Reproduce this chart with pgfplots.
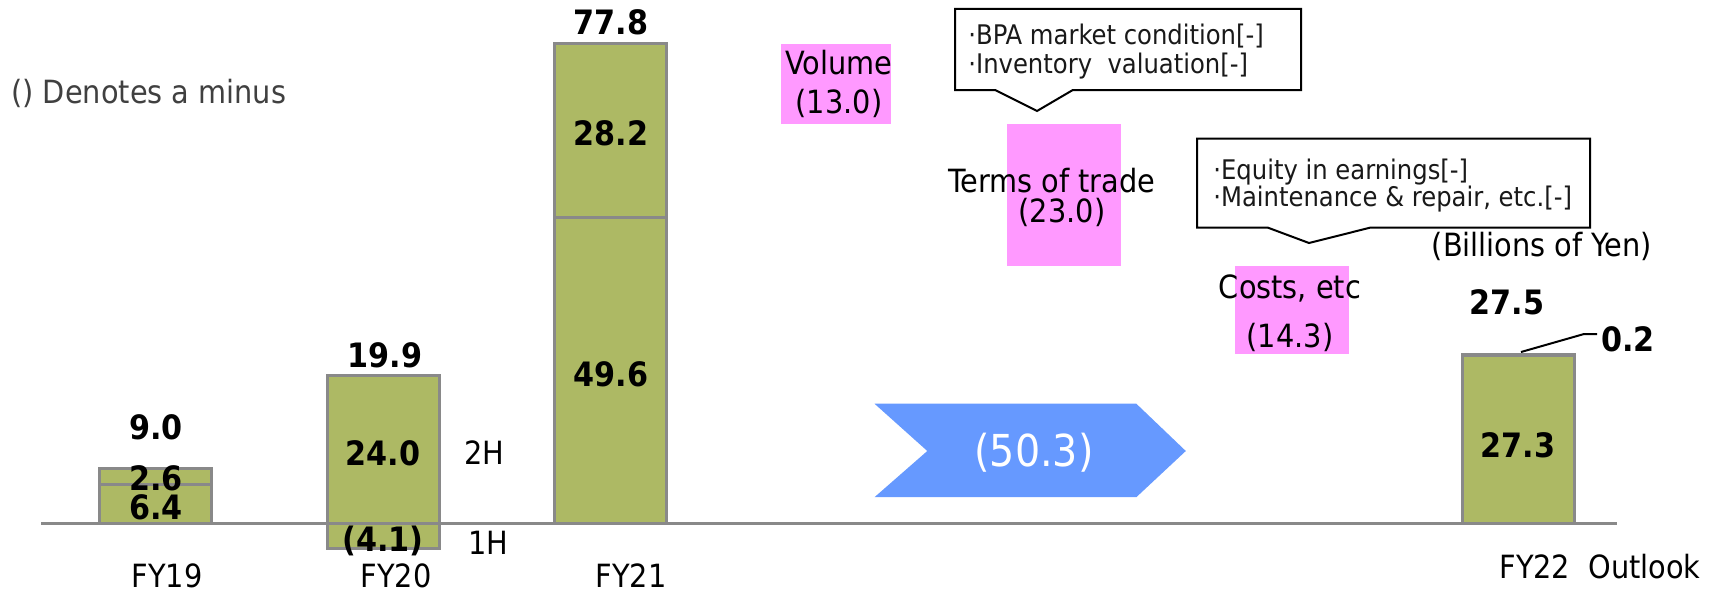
\documentclass[border=0pt]{standalone}
\usepackage{pgfplots}
\pgfplotsset{compat=1.18}
\usepackage{fontspec}
\setmainfont{DejaVu Sans Condensed}
\definecolor{barg}{RGB}{173,185,100}
\definecolor{barline}{RGB}{137,137,137}
\definecolor{pinkc}{RGB}{255,153,255}
\definecolor{bluec}{RGB}{102,153,255}
\definecolor{txtgray}{RGB}{64,64,64}
\begin{document}
\begin{tikzpicture}[
  lab/.style={font=\fontsize{16.8}{19}\selectfont\bfseries, inner sep=0pt},
  txt/.style={font=\fontsize{16}{18}\selectfont, inner sep=0pt},
  small/.style={font=\fontsize{13.5}{16}\selectfont, inner sep=0pt, anchor=west, text=black!90}]
\begin{axis}[name=ax, width=862.5pt, height=298pt, scale only axis, hide axis, clip=false,
  xmin=-0.6872, xmax=6.9119, ymin=-11.744, ymax=84.93]
% waterfall (pink floating boxes)
\addplot[fill=pinkc, draw=none] coordinates {(2.753,77.8) (3.238,77.8) (3.238,64.8) (2.753,64.8)} -- cycle;
\addplot[fill=pinkc, draw=none] coordinates {(3.747,64.8) (4.251,64.8) (4.251,41.8) (3.747,41.8)} -- cycle;
\addplot[fill=pinkc, draw=none] coordinates {(4.754,41.8) (5.255,41.8) (5.255,27.5) (4.754,27.5)} -- cycle;
% bars: totals / 2H, then lower segments / 1H
\addplot[ybar, bar width=56pt, bar shift=0pt, fill=barg, draw=barline, line width=1.5pt]
  coordinates {(0,9.0) (1,24.0) (2,77.8) (6,27.5)};
\addplot[ybar, bar width=56pt, bar shift=0pt, fill=barg, draw=barline, line width=1.5pt]
  coordinates {(0,6.4) (1,-4.1) (2,49.6) (6,27.3)};
% baseline
\addplot[barline, line width=1.5pt] coordinates {(-0.505,0) (6.436,0)};
\end{axis}
\begin{scope}[shift={(ax.north west)}, x=0.5pt, y=-0.5pt]
\path (0,0) rectangle (1725,596);
% blue arrow
\fill[bluec] (874.5,403.7) -- (1136.3,403.7) -- (1185.8,451) -- (1136.3,497.2) -- (874.5,497.2) -- (927.3,451) -- cycle;
\node[font=\fontsize{22}{26}\selectfont, text=white, inner sep=0pt] at (1034,453) {(50.3)};
% callouts
\draw[line width=1pt] (955,8.8) -- (1301,8.8) -- (1301,90.2) -- (1072.5,90.2) -- (1037,111) -- (995.5,90.2) -- (955,90.2) -- cycle;
\node[small] at (968,36.3) {·BPA market condition[-]};
\node[small] at (968,66) {·Inventory\ \ valuation[-]};
\draw[line width=1pt] (1197,138.6) -- (1590,138.6) -- (1590,227.7) -- (1370,227.7) -- (1309,243) -- (1268,227.7) -- (1197,227.7) -- cycle;
\node[small] at (1213,171.6) {·Equity in earnings[-]};
\node[small] at (1213,199) {·Maintenance \& repair, etc.[-]};
% texts
\node[txt, anchor=west, text=txtgray] at (11,93.5) {() Denotes a minus};
\node[lab] at (156,427) {9.0};
\node[lab, align=center, font=\fontsize{16.8}{14.3}\selectfont\bfseries] at (156,493) {2.6\\6.4};
\node[lab] at (385,355) {19.9};
\node[lab] at (383,453) {24.0};
\node[lab] at (383,541) {(4.1)};
\node[txt] at (484,453) {2H};
\node[txt] at (488,543) {1H};
\node[lab] at (611,22) {77.8};
\node[lab] at (611,133) {28.2};
\node[lab] at (611,374) {49.6};
\node[txt] at (839,62.7) {Volume};
\node[txt] at (839,103.4) {(13.0)};
\node[txt, align=center, font=\fontsize{16}{15}\selectfont] at (1052,197.5) {\makebox[0pt]{Terms of trade}\\\hspace*{10pt}(23.0)};
\node[txt] at (1290,288.2) {Costs, etc};
\node[txt] at (1290,337.7) {(14.3)};
\node[txt] at (1542,246) {(Billions of Yen)};
\node[lab] at (1507,302.5) {27.5};
\node[lab] at (1628,339) {0.2};
\node[lab] at (1518,445.5) {27.3};
\draw[line width=1pt] (1521,352) -- (1584,334) -- (1597,334);
\node[txt] at (167,576) {FY19};
\node[txt] at (396,576) {FY20};
\node[txt] at (631,576) {FY21};
\node[txt] at (1600,567) {FY22\ \ Outlook};
\end{scope}
\end{tikzpicture}
\end{document}
